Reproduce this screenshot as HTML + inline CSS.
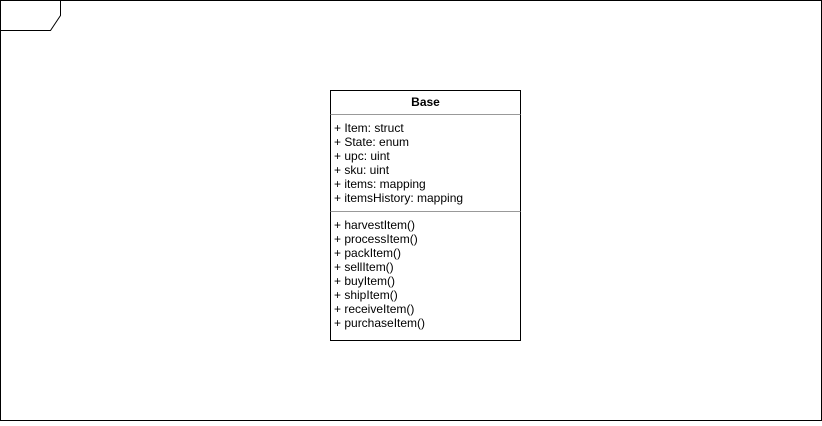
<!DOCTYPE html>
<html><head><style>
body{margin:0;background:#fff;}
svg text{font-family:"Liberation Sans",Arial,sans-serif;font-size:12px;fill:#000;}
</style></head><body>
<svg width="822" height="421" xmlns="http://www.w3.org/2000/svg">
<rect x="0.5" y="0.5" width="821" height="420" fill="#fff" stroke="#000"/>
<path d="M0.5 30.5 H50.5 L60.5 15.5 V0.5" fill="none" stroke="#000"/>
<rect x="330.5" y="90.5" width="190" height="250" fill="#fff" stroke="#000"/>
<line x1="330.5" y1="114.5" x2="520.5" y2="114.5" stroke="#999"/>
<line x1="330.5" y1="211.5" x2="520.5" y2="211.5" stroke="#999"/>
<text x="425.5" y="106" text-anchor="middle" font-weight="bold">Base</text>
<text x="334" y="132">+ Item: struct</text>
<text x="334" y="146">+ State: enum</text>
<text x="334" y="160">+ upc: uint</text>
<text x="334" y="174">+ sku: uint</text>
<text x="334" y="188">+ items: mapping</text>
<text x="334" y="202">+ itemsHistory: mapping</text>
<text x="334" y="229">+ harvestItem()</text>
<text x="334" y="243">+ processItem()</text>
<text x="334" y="257">+ packItem()</text>
<text x="334" y="271">+ sellItem()</text>
<text x="334" y="285">+ buyItem()</text>
<text x="334" y="299">+ shipItem()</text>
<text x="334" y="313">+ receiveItem()</text>
<text x="334" y="327">+ purchaseItem()</text>
</svg>
</body></html>
